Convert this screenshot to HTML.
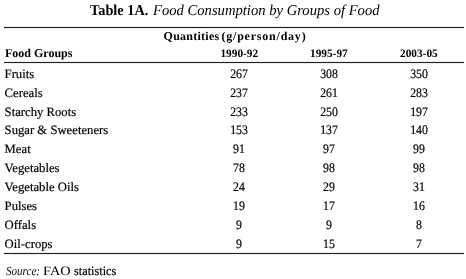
<!DOCTYPE html>
<html><head><meta charset="utf-8"><title>Table 1A</title><style>
html,body{margin:0;padding:0;background:#fff;}
body{width:466px;height:279px;position:relative;overflow:hidden;font-family:"Liberation Serif",serif;color:#000;}
#w{position:absolute;left:0;top:0;width:466px;height:279px;will-change:transform;}
.t{position:absolute;line-height:0;height:0;white-space:nowrap;text-rendering:geometricPrecision;}
.ln{position:absolute;left:4px;width:460px;height:1px;background:#222;box-shadow:0 1px 0 rgba(0,0,0,0.07),0 -1px 0 rgba(0,0,0,0.07);}
b{font-weight:bold;}
i{font-style:italic;}
.r{-webkit-text-stroke:0.2px #000;}
</style></head>
<body><div id="w">
<div class="t" style="left:90px;top:11px;font-size:15px;font-weight:bold;transform:scale(0.955,1.0);transform-origin:0 4px;">Table 1A.</div>
<div class="t" style="left:152.6px;top:11px;font-size:15px;font-style:italic;transform:scale(0.975,1.0);transform-origin:0 4px;">Food Consumption by Groups of Food</div>
<div class="ln" style="top:27px"></div>
<div class="ln" style="top:62px"></div>
<div class="ln" style="top:253px"></div>
<div class="t" style="left:163.6px;top:36px;font-size:12px;font-weight:bold;letter-spacing:0.25px;">Quantities</div>
<div class="t" style="left:221.5px;top:36px;font-size:12px;font-weight:bold;letter-spacing:0.78px;">(g/person/day)</div>
<div class="t" style="left:5.0px;top:53px;font-size:12px;font-weight:bold;">Food Groups</div>
<div class="t" style="left:199.30px;width:80px;text-align:center;top:54px;font-size:11.3px;font-weight:bold;">1990-92</div>
<div class="t" style="left:288.90px;width:80px;text-align:center;top:54px;font-size:11.3px;font-weight:bold;">1995-97</div>
<div class="t" style="left:378.90px;width:80px;text-align:center;top:54px;font-size:11.3px;font-weight:bold;">2003-05</div>
<div class="t r" style="left:4.6px;top:74px;font-size:12.7px;">Fruits</div>
<div class="t r" style="left:209.30px;width:60px;text-align:center;top:74px;font-size:13px;transform:scale(0.91,1.0);transform-origin:50% 4px;">267</div>
<div class="t r" style="left:298.90px;width:60px;text-align:center;top:74px;font-size:13px;transform:scale(0.91,1.0);transform-origin:50% 4px;">308</div>
<div class="t r" style="left:388.90px;width:60px;text-align:center;top:74px;font-size:13px;transform:scale(0.91,1.0);transform-origin:50% 4px;">350</div>
<div class="t r" style="left:4.6px;top:93px;font-size:12.7px;">Cereals</div>
<div class="t r" style="left:209.30px;width:60px;text-align:center;top:93px;font-size:13px;transform:scale(0.91,1.0);transform-origin:50% 4px;">237</div>
<div class="t r" style="left:298.90px;width:60px;text-align:center;top:93px;font-size:13px;transform:scale(0.91,1.0);transform-origin:50% 4px;">261</div>
<div class="t r" style="left:388.90px;width:60px;text-align:center;top:93px;font-size:13px;transform:scale(0.91,1.0);transform-origin:50% 4px;">283</div>
<div class="t r" style="left:4.6px;top:112px;font-size:12.7px;">Starchy Roots</div>
<div class="t r" style="left:209.30px;width:60px;text-align:center;top:112px;font-size:13px;transform:scale(0.91,1.0);transform-origin:50% 4px;">233</div>
<div class="t r" style="left:298.90px;width:60px;text-align:center;top:112px;font-size:13px;transform:scale(0.91,1.0);transform-origin:50% 4px;">250</div>
<div class="t r" style="left:388.90px;width:60px;text-align:center;top:112px;font-size:13px;transform:scale(0.91,1.0);transform-origin:50% 4px;">197</div>
<div class="t r" style="left:4.6px;top:130px;font-size:12.7px;">Sugar &amp; Sweeteners</div>
<div class="t r" style="left:209.30px;width:60px;text-align:center;top:130px;font-size:13px;transform:scale(0.91,1.0);transform-origin:50% 4px;">153</div>
<div class="t r" style="left:298.90px;width:60px;text-align:center;top:130px;font-size:13px;transform:scale(0.91,1.0);transform-origin:50% 4px;">137</div>
<div class="t r" style="left:388.90px;width:60px;text-align:center;top:130px;font-size:13px;transform:scale(0.91,1.0);transform-origin:50% 4px;">140</div>
<div class="t r" style="left:4.6px;top:149px;font-size:12.7px;">Meat</div>
<div class="t r" style="left:209.30px;width:60px;text-align:center;top:149px;font-size:13px;transform:scale(0.91,1.0);transform-origin:50% 4px;">91</div>
<div class="t r" style="left:298.90px;width:60px;text-align:center;top:149px;font-size:13px;transform:scale(0.91,1.0);transform-origin:50% 4px;">97</div>
<div class="t r" style="left:388.90px;width:60px;text-align:center;top:149px;font-size:13px;transform:scale(0.91,1.0);transform-origin:50% 4px;">99</div>
<div class="t r" style="left:4.6px;top:168px;font-size:12.7px;">Vegetables</div>
<div class="t r" style="left:209.30px;width:60px;text-align:center;top:168px;font-size:13px;transform:scale(0.91,1.0);transform-origin:50% 4px;">78</div>
<div class="t r" style="left:298.90px;width:60px;text-align:center;top:168px;font-size:13px;transform:scale(0.91,1.0);transform-origin:50% 4px;">98</div>
<div class="t r" style="left:388.90px;width:60px;text-align:center;top:168px;font-size:13px;transform:scale(0.91,1.0);transform-origin:50% 4px;">98</div>
<div class="t r" style="left:4.6px;top:187px;font-size:12.7px;">Vegetable Oils</div>
<div class="t r" style="left:209.30px;width:60px;text-align:center;top:187px;font-size:13px;transform:scale(0.91,1.0);transform-origin:50% 4px;">24</div>
<div class="t r" style="left:298.90px;width:60px;text-align:center;top:187px;font-size:13px;transform:scale(0.91,1.0);transform-origin:50% 4px;">29</div>
<div class="t r" style="left:388.90px;width:60px;text-align:center;top:187px;font-size:13px;transform:scale(0.91,1.0);transform-origin:50% 4px;">31</div>
<div class="t r" style="left:4.6px;top:206px;font-size:12.7px;">Pulses</div>
<div class="t r" style="left:209.30px;width:60px;text-align:center;top:206px;font-size:13px;transform:scale(0.91,1.0);transform-origin:50% 4px;">19</div>
<div class="t r" style="left:298.90px;width:60px;text-align:center;top:206px;font-size:13px;transform:scale(0.91,1.0);transform-origin:50% 4px;">17</div>
<div class="t r" style="left:388.90px;width:60px;text-align:center;top:206px;font-size:13px;transform:scale(0.91,1.0);transform-origin:50% 4px;">16</div>
<div class="t r" style="left:4.6px;top:225px;font-size:12.7px;">Offals</div>
<div class="t r" style="left:209.30px;width:60px;text-align:center;top:225px;font-size:13px;transform:scale(0.91,1.0);transform-origin:50% 4px;">9</div>
<div class="t r" style="left:298.90px;width:60px;text-align:center;top:225px;font-size:13px;transform:scale(0.91,1.0);transform-origin:50% 4px;">9</div>
<div class="t r" style="left:388.90px;width:60px;text-align:center;top:225px;font-size:13px;transform:scale(0.91,1.0);transform-origin:50% 4px;">8</div>
<div class="t r" style="left:4.6px;top:244px;font-size:12.7px;">Oil-crops</div>
<div class="t r" style="left:209.30px;width:60px;text-align:center;top:244px;font-size:13px;transform:scale(0.91,1.0);transform-origin:50% 4px;">9</div>
<div class="t r" style="left:298.90px;width:60px;text-align:center;top:244px;font-size:13px;transform:scale(0.91,1.0);transform-origin:50% 4px;">15</div>
<div class="t r" style="left:388.90px;width:60px;text-align:center;top:244px;font-size:13px;transform:scale(0.91,1.0);transform-origin:50% 4px;">7</div>
<div class="t" style="left:5.8px;top:271px;font-size:12.3px;font-style:italic;transform:scale(0.9,1.0);transform-origin:0 4px;">Source:</div>
<div class="t" style="left:43.0px;top:271px;font-size:12.8px;transform:scale(1.12,1.0);transform-origin:0 4px;">FAO</div>
<div class="t r" style="left:73.6px;top:271px;font-size:12.8px;transform:scale(0.96,1.0);transform-origin:0 4px;">statistics</div>
</div></body></html>
